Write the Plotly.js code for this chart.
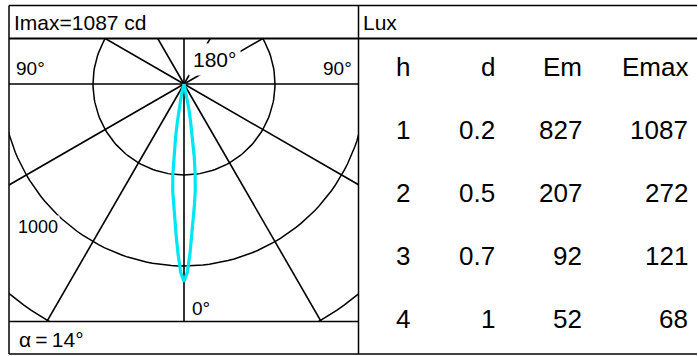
<!DOCTYPE html>
<html>
<head>
<meta charset="utf-8">
<script src="https://cdn.plot.ly/plotly-3.0.1.min.js"></script>
<style>html,body{margin:0;padding:0;background:#fff;}#chart{width:698px;height:356px;}</style>
</head>
<body>
<div id="chart"></div>
<script>
// ---- data ----
const gammaDeg = [0, 1, 2, 3, 4, 5, 6, 7, 8, 9, 10, 11, 12, 13, 14, 15, 16, 18, 20];
const intensity = [1087, 1035, 935, 830, 738, 662, 592, 505, 405, 295, 205, 145, 100, 65, 40, 22, 10, 3, 0];
const gridRadii = [500, 1000, 1500];
const gridAngles = [0, 30, 60, 90, 120, 150, 180, 210, 240, 270, 300, 330];
const imaxLabel = "Imax=1087 cd";
const alphaLabel = "\u03b1\u2009=\u200914\u00b0";
const radiusLabel = "1000";
const tableHeaders = ["h", "d", "Em", "Emax"];
const heights = ["1", "2", "3", "4"];
const diameters = ["0.2", "0.5", "0.7", "1"];
const emValues = ["827", "207", "92", "52"];
const emaxValues = ["1087", "272", "121", "68"];

// ---- geometry helpers ----
const W = 698, H = 356;
const px = v => v / W;
const py = v => 1 - v / H;
const rad = d => d * Math.PI / 180;

const traces = [];
// grid circles
gridRadii.forEach(r => {
  const xs = [], ys = [];
  for (let a = 0; a <= 360; a += 2) { xs.push(r * Math.sin(rad(a))); ys.push(-r * Math.cos(rad(a))); }
  traces.push({type: 'scatter', mode: 'lines', x: xs, y: ys, line: {color: '#000', width: 1.5}, hoverinfo: 'skip'});
});
// radial lines
gridAngles.forEach(a => {
  traces.push({type: 'scatter', mode: 'lines', x: [0, 3000 * Math.sin(rad(a))], y: [0, -3000 * Math.cos(rad(a))],
    line: {color: '#000', width: 1.6}, hoverinfo: 'skip'});
});
// intensity curve (symmetric C0-C180 plane)
const cx = [], cy = [];
for (let i = gammaDeg.length - 1; i >= 0; i--) { cx.push(-intensity[i] * Math.sin(rad(gammaDeg[i]))); cy.push(-intensity[i] * Math.cos(rad(gammaDeg[i]))); }
for (let i = 1; i < gammaDeg.length; i++) { cx.push(intensity[i] * Math.sin(rad(gammaDeg[i]))); cy.push(-intensity[i] * Math.cos(rad(gammaDeg[i]))); }
traces.push({type: 'scatter', mode: 'lines', x: cx, y: cy, line: {color: '#00e6f2', width: 3.2}, hoverinfo: 'skip'});

// ---- layout ----
const font = 'Liberation Sans, Arial, sans-serif';
const ann = (text, x, y, xanchor, size, extra) => Object.assign({
  text: text, x: px(x), y: py(y), xref: 'paper', yref: 'paper', xanchor: xanchor, yanchor: 'middle',
  showarrow: false, font: {family: font, size: size, color: '#000'}
}, extra || {});

const annotations = [
  ann(imaxLabel, 12, 22, 'left', 21),
  ann('Lux', 361, 22, 'left', 21),
  ann('90\u00b0', 14, 69, 'left', 19),
  ann('90\u00b0', 354, 69, 'right', 19),
  ann('180\u00b0', 214, 60, 'center', 21, {bgcolor: '#fff', borderpad: 4}),
  ann('0\u00b0', 190, 308, 'left', 19),
  ann(radiusLabel, 16, 227, 'left', 18, {bgcolor: '#fff', borderpad: 1}),
  ann(alphaLabel, 17, 339, 'left', 21)
];
const colX = [403, 497, 584, 690];
const colAnchor = ['center', 'right', 'right', 'right'];
const rowY = [67, 130, 193, 256, 319];
tableHeaders.forEach((t, c) => annotations.push(ann(t, colX[c], rowY[0], colAnchor[c], 26)));
const cols = [heights, diameters, emValues, emaxValues];
cols.forEach((col, c) => col.forEach((v, r) => annotations.push(ann(v, colX[c], rowY[r + 1], colAnchor[c], 26))));

const L = (x0, y0, x1, y1, w) => ({type: 'line', xref: 'paper', yref: 'paper', x0: px(x0), y0: py(y0), x1: px(x1), y1: py(y1),
  line: {color: '#000', width: w}, layer: 'above'});
const shapes = [
  L(9, 5.5, 697, 5.5, 1.5),
  L(9, 38.5, 697, 38.5, 2),
  L(9, 5.5, 9, 354, 1.5),
  L(358.5, 5.5, 358.5, 354, 1.5),
  L(9, 354, 697, 354, 1.5),
  L(9, 321.5, 358.5, 321.5, 1.5)
];

const scale = 0.182; // px per cd
const layout = {
  width: W, height: H, margin: {l: 0, r: 0, t: 0, b: 0},
  paper_bgcolor: '#fff', plot_bgcolor: '#fff', showlegend: false,
  xaxis: {domain: [px(9), px(359)], range: [(9 - 184) / scale, (359 - 184) / scale], visible: false, fixedrange: true},
  yaxis: {domain: [py(321), py(38)], range: [-(321 - 84) / scale, (84 - 38) / scale], visible: false, fixedrange: true},
  annotations: annotations, shapes: shapes
};
Plotly.newPlot('chart', traces, layout, {displayModeBar: false, staticPlot: true});
</script>
</body>
</html>
